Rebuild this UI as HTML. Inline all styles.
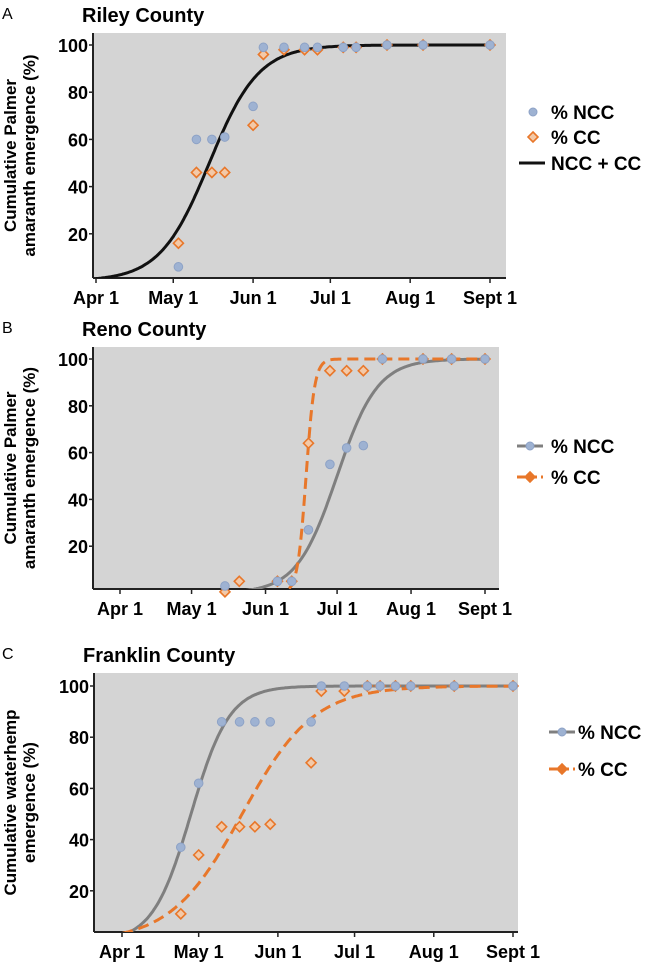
<!DOCTYPE html>
<html><head><meta charset="utf-8"><style>
body{margin:0;background:#fff;}
svg{display:block;font-family:"Liberation Sans",Arial,sans-serif;font-weight:bold;}
</style></head><body>
<svg id="chart" width="650" height="967" viewBox="0 0 650 967"></svg>
<script>
// Days since Apr 1
const tickLabels = ["Apr 1","May 1","Jun 1","Jul 1","Aug 1","Sept 1"];
const tickDays = [0,30,61,91,122,153];
const yTicks = [20,40,60,80,100];

const aNccDays = [32,39,45,50,61,65,73,81,86,96,101,113,127,153];
const aNccVals = [6,60,60,61,74,99,99,99,99,99,99,100,100,100];
const aCcDays = [32,39,45,50,61,65,73,81,86,96,101,113,127,153];
const aCcVals = [16,46,46,46,66,96,98,98,98,99,99,100,100,100];
const aFit = [44,9.6];

const bNccDays = [44,66,72,79,88,95,102,110,127,139,153];
const bNccVals = [3,5,5,27,55,62,63,100,100,100,100];
const bCcDays = [44,50,66,72,79,88,95,102,110,127,139,153];
const bCcVals = [0.5,5,5,5,64,95,95,95,100,100,100,100];
const bNccFit = [91,8.5];
const bCcFit = [78,1.8];

const cNccDays = [23,30,39,46,52,58,74,78,87,96,101,107,113,130,153];
const cNccVals = [37,62,86,86,86,86,86,100,100,100,100,100,100,100,100];
const cCcDays = [23,30,39,46,52,58,74,78,87,96,101,107,113,130,153];
const cCcVals = [11,34,45,45,45,46,70,98,98,100,100,100,100,100,100];
const cNccFit = [27,7.5];
const cCcFit = [47,14];

const NS="http://www.w3.org/2000/svg";
const svg=document.getElementById('chart');
function mk(tag,attrs,parent,text){const e=document.createElementNS(NS,tag);for(const k in attrs)e.setAttribute(k,attrs[k]);if(text!==undefined)e.textContent=text;(parent||svg).appendChild(e);return e;}
const BLUE="#9eb2d2",BLUES="#8da2c6",OR="#e8772a",GR="#7f7f7f";
function logistic(d,p){return 100/(1+Math.exp(-(d-p[0])/p[1]));}

function panel(cfg){
  const g=mk('g',{});
  
  
  const xs=d=>cfg.x0+d*(cfg.x1-cfg.x0)/153;
  const ys=v=>cfg.y0-v*(cfg.y0-cfg.y100)/100;
  const bg=mk('rect',{x:cfg.L,y:cfg.T,width:cfg.R-cfg.L,height:cfg.B-cfg.T,fill:"#d4d4d4"},g);
  
  const t=mk('text',{x:cfg.L-11,y:cfg.T-11,'font-size':20},g,cfg.title);
  
  const lt=mk('text',{x:2,y:cfg.T-14,'font-size':16,'font-weight':'normal'},g,cfg.letter);
  
  const yt=mk('text',{transform:`translate(${cfg.ytx},${(cfg.T+cfg.B)/2}) rotate(-90)`,'text-anchor':'middle','font-size':17},g);
  
  cfg.ytitle.forEach((s,i)=>mk('tspan',{x:0,dy:i?19:0},yt,s));
  const ya=mk('line',{x1:cfg.L,x2:cfg.L,y1:cfg.T,y2:cfg.B,stroke:"#222",'stroke-width':2},g);
  
  const xa=mk('line',{x1:cfg.L,x2:cfg.R,y1:cfg.B,y2:cfg.B,stroke:"#222",'stroke-width':2},g);
  
  yTicks.forEach(v=>{
    mk('line',{x1:cfg.L-4,x2:cfg.L,y1:ys(v),y2:ys(v),stroke:"#222",'stroke-width':1.5},g);
    const tl=mk('text',{x:cfg.L-5,y:ys(v)+7,'text-anchor':'end','font-size':18},g,String(v));
    
  });
  tickDays.forEach((d,i)=>{
    mk('line',{x1:xs(d),x2:xs(d),y1:cfg.B,y2:cfg.B+5,stroke:"#222",'stroke-width':1.5},g);
    const tl=mk('text',{x:xs(d),y:cfg.B+26,'text-anchor':'middle','font-size':18},g,tickLabels[i]);
    
  });
  const clip='clip'+cfg.letter;
  const cp=mk('clipPath',{id:clip},g);mk('rect',{x:cfg.L,y:cfg.T,width:cfg.R-cfg.L,height:cfg.B-cfg.T},cp);
  function curve(p,color,dash,name){
    let d='';for(let day=0;day<=153;day+=0.5){d+=(day?'L':'M')+xs(day).toFixed(1)+','+ys(logistic(day,p)).toFixed(1);}
    const c=mk('path',{d,fill:'none',stroke:color,'stroke-width':3,'stroke-dasharray':dash||'none','clip-path':`url(#${clip})`},g);
    
  }
  cfg.curves.forEach(c=>curve(c.p,c.color,c.dash,c.name));
  function circles(days,vals){days.forEach((d,i)=>{const c=mk('circle',{cx:xs(d),cy:ys(vals[i]),r:4.3,fill:BLUE,stroke:BLUES,'stroke-width':1},g);
    });}
  function diamonds(days,vals){days.forEach((d,i)=>{const x=xs(d),y=ys(vals[i]);const c=mk('path',{d:`M${x},${y-5}L${x+5},${y}L${x},${y+5}L${x-5},${y}Z`,fill:'#f3c9a8',stroke:OR,'stroke-width':1.6},g);
    });}
  if(cfg.ccFirst){diamonds(cfg.cd,cfg.cv);circles(cfg.nd,cfg.nv);}else{circles(cfg.nd,cfg.nv);diamonds(cfg.cd,cfg.cv);}
  cfg.legend.forEach(it=>{
    const lg=mk('g',{},g);
    if(it.line)mk('line',{x1:it.x-13,x2:it.x+13,y1:it.y,y2:it.y,stroke:it.line,'stroke-width':3,'stroke-dasharray':it.dash||'none'},lg);
    if(it.m==='c')mk('circle',{cx:it.x,cy:it.y,r:4,fill:BLUE,stroke:BLUES},lg);
    if(it.m==='d')mk('path',{d:`M${it.x},${it.y-5}L${it.x+5},${it.y}L${it.x},${it.y+5}L${it.x-5},${it.y}Z`,fill:it.line?OR:'#f3c9a8',stroke:OR,'stroke-width':1.6},lg);
    mk('text',{x:it.tx,y:it.y+7,'font-size':19},lg,it.text);
  });
}

panel({name:'panel-a-riley',letter:'A',title:'Riley County',L:93,R:506,T:33,B:278,x0:96,x1:490,y0:281,y100:45,ytx:16,
  ytitle:['Cumulative Palmer','amaranth emergence (%)'],
  curves:[{p:aFit,color:'#111',name:'fit-ncc-cc'}],ccFirst:true,
  nd:aNccDays,nv:aNccVals,cd:aCcDays,cv:aCcVals,
  legend:[{x:533,y:112,m:'c',tx:551,text:'% NCC'},{x:533,y:137,m:'d',tx:551,text:'% CC'},{x:532,y:163,line:'#111',tx:551,text:'NCC + CC'}]});
panel({name:'panel-b-reno',letter:'B',title:'Reno County',L:93,R:499,T:347,B:589,x0:120,x1:485,y0:593,y100:359,ytx:16,
  ytitle:['Cumulative Palmer','amaranth emergence (%)'],
  curves:[{p:bNccFit,color:GR,name:'fit-ncc'},{p:bCcFit,color:OR,dash:'11 6',name:'fit-cc'}],ccFirst:true,
  nd:bNccDays,nv:bNccVals,cd:bCcDays,cv:bCcVals,
  legend:[{x:530,y:446,m:'c',line:GR,tx:551,text:'% NCC'},{x:530,y:477,m:'d',line:OR,dash:'8 4',tx:551,text:'% CC'}]});
panel({name:'panel-c-franklin',letter:'C',title:'Franklin County',L:94,R:518,T:673,B:932,x0:122,x1:513,y0:942,y100:686,ytx:16,
  ytitle:['Cumulative waterhemp','emergence (%)'],
  curves:[{p:cNccFit,color:GR,name:'fit-ncc'},{p:cCcFit,color:OR,dash:'11 6',name:'fit-cc'}],ccFirst:true,
  nd:cNccDays,nv:cNccVals,cd:cCcDays,cv:cCcVals,
  legend:[{x:562,y:732,m:'c',line:GR,tx:578,text:'% NCC'},{x:562,y:769,m:'d',line:OR,dash:'8 4',tx:578,text:'% CC'}]});
</script>
</body></html>
